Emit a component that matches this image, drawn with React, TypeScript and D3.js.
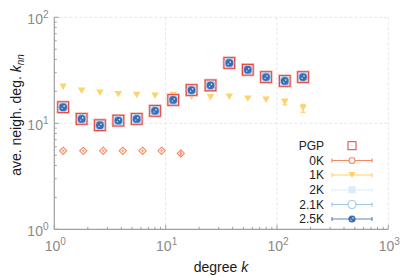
import React from "react";
import * as d3 from "d3";

const kMain = [1.2, 1.76, 2.57, 3.76, 5.5, 8.03, 11.7, 17.1, 25.3, 37.3, 54.7, 79.8, 117.5, 171.5];
const pgp = [14.2, 11.0, 9.6, 10.6, 11.0, 13.1, 16.6, 20.6, 22.8, 37.1, 32.0, 27.3, 25.1, 27.3];
const twoK = [14.2, 11.0, 9.6, 10.6, 11.0, 13.1, 16.6, 20.6, 22.8, 37.1, 32.0, 27.3, 25.1, 27.3];
const twoOneK = [14.2, 11.0, 9.6, 10.6, 11.0, 13.1, 16.6, 20.6, 22.8, 37.1, 32.0, 27.3, 25.1, 27.3];
const twoFiveK = [14.2, 11.0, 9.6, 10.6, 11.0, 13.1, 16.6, 20.6, 22.8, 37.1, 32.0, 27.3, 25.1, 27.3];
const oneK = [22.1, 20.3, 19.4, 18.8, 18.5, 18.2, 18.5, 17.8, 17.6, 17.8, 17.1, 16.7, 15.9, 13.9];
const oneKErr = [0, 0, 0, 0, 0, 0, 0, 0, 0, 0, 0, 0, 1.0, 1.2];
const kZero = [1.2, 1.82, 2.75, 4.12, 6.2, 9.2, 13.7];
const zeroK = [5.5, 5.5, 5.5, 5.5, 5.5, 5.5, 5.2];
const zeroKErr = [0, 0, 0, 0, 0, 0, 0.35];
const xTicks = [1, 10, 100, 1000];
const yTicks = [1, 10, 100];
const legendLabels = ["PGP", "0K", "1K", "2K", "2.1K", "2.5K"];

const W = 415, H = 277;
const x = d3.scaleLog().domain([1, 1000]).range([54.3, 388.3]);
const y = d3.scaleLog().domain([1, 100]).range([229.3, 17.3]);

const C = {
  pgp: "#e4413b",
  pgpHalo: "#f6b1ab",
  zero: "#f58a62",
  one: "#fdd46c",
  two: "#d9ecf8",
  twoLine: "#e3f1fa",
  twoOne: "#9fc6e4",
  twoFive: "#3b6db5",
  axis: "#a0a0a0",
  grid: "#e6e6e6",
  tick: "#8a8a8a",
};

const FONT = "'Liberation Sans', Arial, Helvetica, sans-serif";

function minorTicks(lo: number, hi: number) {
  const out: number[] = [];
  for (let d = lo; d < hi; d *= 10) for (let m = 2; m <= 9; m++) out.push(d * m);
  return out;
}

function Tri({ cx, cy, s, fill }: { cx: number; cy: number; s: number; fill: string }) {
  const h = s * 0.85;
  const p = `M${cx - s / 2},${cy - h / 2}L${cx + s / 2},${cy - h / 2}L${cx},${cy + h / 2}Z`;
  return <path d={p} fill={fill} />;
}

function BlueDot({ cx, cy, r }: { cx: number; cy: number; r: number }) {
  return (
    <g>
      <circle cx={cx} cy={cy} r={r} fill={C.twoFive} />
      <circle cx={cx + 1} cy={cy - 1} r={0.8} fill="#ffffff" opacity={0.9} />
      <circle cx={cx - 1} cy={cy + 1.2} r={0.7} fill="#ffffff" opacity={0.8} />
    </g>
  );
}

export default function App() {
  const xMinor = minorTicks(1, 1000);
  const yMinor = minorTicks(1, 100);
  const x0 = x(1), x1 = x(1000), y0 = y(1), y1 = y(100);

  const legX = 352, legL = 332, legR = 372, legText = 324;
  const legY = [145.7, 160.5, 175, 189.8, 204.5, 219];

  return (
    <svg width={W} height={H} style={{ position: "absolute", left: 0, top: 0 }} fontFamily={FONT}>
      <rect width={W} height={H} fill="#fff" />
      {/* grid + frame */}
      <line x1={x0} x2={x1} y1={y1} y2={y1} stroke={C.grid} strokeDasharray="3,2" />
      <line x1={x1} x2={x1} y1={y1} y2={y0} stroke={C.grid} strokeDasharray="3,2" />
      {[10, 100].map((t) => (
        <line key={"gx" + t} x1={x(t)} x2={x(t)} y1={y1} y2={y0} stroke={C.grid} strokeDasharray="3,2" />
      ))}
      <line x1={x0} x2={x1} y1={y(10)} y2={y(10)} stroke={C.grid} strokeDasharray="3,2" />

      {/* axes */}
      <line x1={x0} x2={x0} y1={y1} y2={y0} stroke={C.axis} strokeWidth={1.2} />
      <line x1={x0} x2={x1} y1={y0} y2={y0} stroke={C.axis} strokeWidth={1.2} />
      {xMinor.map((t) => (
        <line key={"xm" + t} x1={x(t)} x2={x(t)} y1={y0} y2={y0 - 2.5} stroke={C.axis} />
      ))}
      {xTicks.map((t) => (
        <line key={"xM" + t} x1={x(t)} x2={x(t)} y1={y0} y2={y0 - 4.5} stroke={C.axis} />
      ))}
      {yMinor.map((t) => (
        <line key={"ym" + t} x1={x0} x2={x0 + 2.5} y1={y(t)} y2={y(t)} stroke={C.axis} />
      ))}
      {yTicks.map((t) => (
        <line key={"yM" + t} x1={x0} x2={x0 + 4.5} y1={y(t)} y2={y(t)} stroke={C.axis} />
      ))}

      {/* tick labels */}
      {xTicks.map((t) => (
        <text key={"xl" + t} x={x(t) + 1} y={250.5} textAnchor="middle" fill={C.tick} fontSize={14}>
          10<tspan dy={-6} fontSize={10}>{Math.round(Math.log10(t))}</tspan>
        </text>
      ))}
      {yTicks.map((t) => (
        <text key={"yl" + t} x={48.5} y={y(t) + 6.5} textAnchor="end" fill={C.tick} fontSize={14}>
          10<tspan dy={-6} fontSize={10}>{Math.round(Math.log10(t))}</tspan>
        </text>
      ))}

      {/* axis titles */}
      <text x={221} y={271.5} textAnchor="middle" fontSize={14} fill="#1a1a1a">
        degree <tspan fontStyle="italic">k</tspan>
      </text>
      <text transform="translate(21,115) rotate(-90)" textAnchor="middle" fontSize={14} fill="#1a1a1a">
        ave. neigh. deg. <tspan fontStyle="italic">k</tspan>
        <tspan fontStyle="italic" fontSize={10} dy={3}>nn</tspan>
      </text>

      {/* 0K */}
      {kZero.map((k, i) => {
        const cx = x(k), cy = y(zeroK[i]);
        const e = zeroKErr[i];
        return (
          <g key={"z" + i} stroke={C.zero} fill="none">
            {e > 0 && (
              <line x1={cx} x2={cx} y1={y(zeroK[i] + e)} y2={y(zeroK[i] - e)} strokeWidth={1} />
            )}
            <path d={`M${cx},${cy - 3.6}L${cx + 3.6},${cy}L${cx},${cy + 3.6}L${cx - 3.6},${cy}Z`} strokeWidth={1.1} />
            <line x1={cx - 1.5} x2={cx + 1.5} y1={cy} y2={cy} strokeWidth={0.8} />
            <line x1={cx} x2={cx} y1={cy - 1.5} y2={cy + 1.5} strokeWidth={0.8} />
          </g>
        );
      })}

      {/* 1K */}
      {kMain.map((k, i) => {
        const cx = x(k), cy = y(oneK[i]);
        const e = oneKErr[i];
        return (
          <g key={"o" + i}>
            {e > 0 && (
              <g stroke={C.one} strokeWidth={1.2}>
                <line x1={cx} x2={cx} y1={y(oneK[i] + e)} y2={y(oneK[i] - e)} />
                <line x1={cx - 2.5} x2={cx + 2.5} y1={y(oneK[i] + e)} y2={y(oneK[i] + e)} />
                <line x1={cx - 2.5} x2={cx + 2.5} y1={y(oneK[i] - e)} y2={y(oneK[i] - e)} />
              </g>
            )}
            <Tri cx={cx} cy={cy} s={7.5} fill={C.one} />
          </g>
        );
      })}

      {/* 2K squares */}
      {kMain.map((k, i) => (
        <rect key={"t" + i} x={x(k) - 5} y={y(twoK[i]) - 5} width={10} height={10} fill={C.two} />
      ))}
      {/* PGP squares */}
      {kMain.map((k, i) => (
        <g key={"p" + i} fill="none">
          <rect x={x(k) - 5.8} y={y(pgp[i]) - 5.8} width={11.6} height={11.6} stroke={C.pgpHalo} strokeWidth={1.6} />
          <rect x={x(k) - 5.3} y={y(pgp[i]) - 5.3} width={10.6} height={10.6} stroke={C.pgp} strokeWidth={1} />
        </g>
      ))}
      {/* 2.1K circles */}
      {kMain.map((k, i) => (
        <circle key={"u" + i} cx={x(k)} cy={y(twoOneK[i])} r={4.6} fill="none" stroke={C.twoOne} strokeWidth={1} />
      ))}
      {/* 2.5K */}
      {kMain.map((k, i) => (
        <BlueDot key={"f" + i} cx={x(k)} cy={y(twoFiveK[i])} r={3.9} />
      ))}

      {/* legend */}
      {legendLabels.map((lab, i) => (
        <text key={"lt" + i} x={legText} y={legY[i] + 4.3} textAnchor="end" fontSize={12} fill="#222">
          {lab}
        </text>
      ))}
      <rect x={legX - 4} y={legY[0] - 4} width={8} height={8} fill="none" stroke={C.pgp} strokeWidth={1} />
      <circle cx={legX} cy={legY[0]} r={0.6} fill={C.pgpHalo} />
      {[
        { c: C.zero, i: 1 },
        { c: C.one, i: 2 },
        { c: C.twoLine, i: 3 },
        { c: C.twoOne, i: 4 },
        { c: "#5d86c4", i: 5 },
      ].map(({ c, i }) => (
        <g key={"ll" + i} stroke={c} strokeWidth={1.2}>
          <line x1={legL} x2={legR} y1={legY[i]} y2={legY[i]} />
          <line x1={legL} x2={legL} y1={legY[i] - 2} y2={legY[i] + 2} />
          <line x1={legR} x2={legR} y1={legY[i] - 2} y2={legY[i] + 2} />
        </g>
      ))}
      <circle cx={legX} cy={legY[1]} r={3} fill="#fff" stroke={C.zero} strokeWidth={1.2} />
      <Tri cx={legX} cy={legY[2]} s={7} fill={C.one} />
      <rect x={legX - 3.5} y={legY[3] - 3.5} width={7} height={7} fill={C.two} />
      <circle cx={legX} cy={legY[4]} r={4} fill="#fff" stroke={C.twoOne} strokeWidth={1.1} />
      <BlueDot cx={legX} cy={legY[5]} r={3.6} />
    </svg>
  );
}
